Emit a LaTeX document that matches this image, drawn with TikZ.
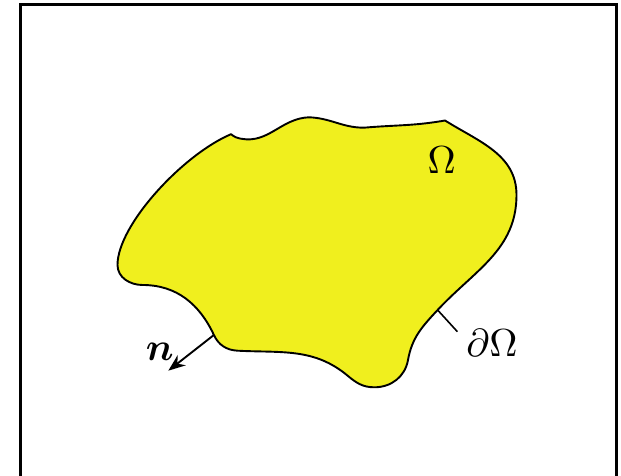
\documentclass[tikz,border=0pt]{standalone}
\usepackage{amsmath,bm}
\usetikzlibrary{arrows.meta}
\definecolor{blobfill}{RGB}{240,239,30}
\tikzset{
  frameline/.style={line width=2.8pt,line cap=rect},
  outline/.style={line width=1.9pt,fill=blobfill,line join=round},
  lbl/.style={inner sep=0pt,anchor=base,scale=3.9},
  normalarrow/.style={line width=1.9pt,-{Stealth[length=17pt,width=13pt]}},
  tick/.style={line width=1.6pt}
}
\begin{document}
\begin{tikzpicture}[x=1pt,y=1pt]
\useasboundingbox (0,0) rectangle (621,476);
\fill[white] (0,0) rectangle (621,476);
% frame (bottom edge lies outside the picture)
\draw[frameline] (20.5,-4) -- (20.5,471.2) -- (616.7,471.2) -- (616.7,-4);
% boundary points
\coordinate (p1) at (231,341.8);
\coordinate (p2) at (241.5,337.2);
\coordinate (p3) at (309,358.7);
\coordinate (p4) at (364,348.3);
\coordinate (p5) at (445,355.5);
\coordinate (p6) at (516.5,281);
\coordinate (p7) at (437.6,166);
\coordinate (p8) at (408,116);
\coordinate (p9) at (374.3,88.7);
\coordinate (p10) at (348,100);
\coordinate (p11) at (237.6,125.3);
\coordinate (p12) at (213.9,141);
\coordinate (p13) at (142.6,191);
\coordinate (p14) at (117.5,211);
\coordinate (c1) at (117.5,251);
\coordinate (c2) at (183.1,321.5);
% domain
\draw[outline] (p1)
  to[out=-40,in=170] (p2)
  to[out=-10,in=182] (p3)
  to[out=-2,in=180] (p4)
  to[out=5,in=190] (p5)
  to[out=-32,in=90] (p6)
  to[out=-90,in=47] (p7)
  to[out=-133,in=80] (p8)
  to[out=-100,in=0] (p9)
  to[out=180,in=-40] (p10)
  to[out=140,in=-3] (p11)
  to[out=177,in=-65] (p12)
  to[out=115,in=0] (p13)
  to[out=180,in=-90] (p14)
  .. controls (c1) and (c2) .. (p1) -- cycle;
\coordinate (ntip) at (168.3,105.3);
\coordinate (tickend) at (457.4,144.3);
\draw[normalarrow] (p12) -- (ntip);
\draw[tick] (p7) -- (tickend);
\node[lbl] (om) at (441.7,302.7) {$\Omega$};
\node[lbl] (dom) at (492,119.3) {$\partial\Omega$};
\node[lbl] (nl) at (159.7,115) {$\bm{n}$};
\end{tikzpicture}
\end{document}
